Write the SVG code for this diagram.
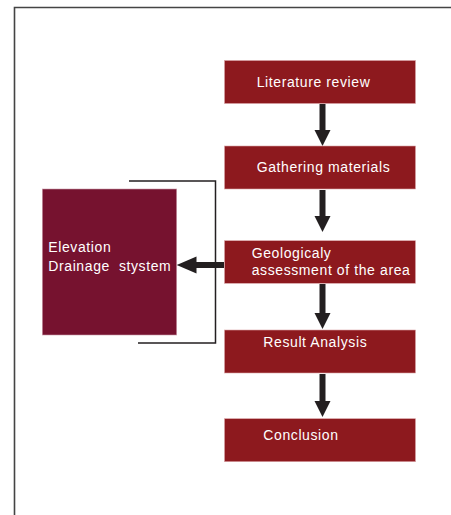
<svg xmlns="http://www.w3.org/2000/svg" width="451" height="515" viewBox="0 0 451 515">
<defs>
<style>
.box{fill:#8d191e;stroke:#d9a3a5;stroke-width:0.6}
.side{fill:#76122f;stroke:#c99aa8;stroke-width:0.6}
.t{font-family:"Liberation Sans",Arial,sans-serif;font-size:14px;fill:#ffffff;letter-spacing:0.6px;white-space:pre}
.frame{fill:none;stroke:#444444;stroke-width:1.6}
.bracket{fill:none;stroke:#231f20;stroke-width:1.5}
.shaft{fill:none;stroke:#231f20;stroke-width:6}
.head{fill:#231f20}
</style>
</defs>
<rect x="0" y="0" width="451" height="515" fill="#ffffff"/>
<path class="frame" d="M14.5,520 V7.5 H460"/>
<g id="connectors">
<path class="bracket" d="M129,181 H215.5 V343 H138"/>
<line class="shaft" x1="322.5" y1="104" x2="322.5" y2="131"/>
<polygon class="head" points="314.5,130 330.5,130 322.5,146"/>
<line class="shaft" x1="322.5" y1="190" x2="322.5" y2="217"/>
<polygon class="head" points="314.5,216 330.5,216 322.5,232"/>
<line class="shaft" x1="322.5" y1="284" x2="322.5" y2="314"/>
<polygon class="head" points="314.5,313 330.5,313 322.5,329"/>
<line class="shaft" x1="322.5" y1="374" x2="322.5" y2="402"/>
<polygon class="head" points="314.5,401 330.5,401 322.5,417"/>
<line class="shaft" x1="224" y1="265" x2="195" y2="265"/>
<polygon class="head" points="196.5,256.5 196.5,273.5 176.7,265"/>
</g>
<g id="literature-review">
<rect class="box" x="224.5" y="60.5" width="191" height="43"/>
<text class="t" x="256.7" y="87.3">Literature review</text>
</g>
<g id="gathering-materials">
<rect class="box" x="224.5" y="146" width="191" height="43"/>
<text class="t" x="256.7" y="172.3">Gathering materials</text>
</g>
<g id="geological-assessment">
<rect class="box" x="224.5" y="240.7" width="191" height="42.6"/>
<text class="t" x="251.7" y="258.3">Geologicaly</text>
<text class="t" x="251.7" y="275">assessment of the area</text>
</g>
<g id="result-analysis">
<rect class="box" x="224.5" y="330" width="191" height="43"/>
<text class="t" x="263.3" y="347.3">Result Analysis</text>
</g>
<g id="conclusion">
<rect class="box" x="224.5" y="418.7" width="191" height="43"/>
<text class="t" x="263.3" y="440">Conclusion</text>
</g>
<g id="elevation-drainage">
<rect class="side" x="42.3" y="189" width="134.4" height="146"/>
<text class="t" x="48.3" y="252.3">Elevation</text>
<text class="t" x="48.3" y="271">Drainage  stystem</text>
</g>
</svg>
